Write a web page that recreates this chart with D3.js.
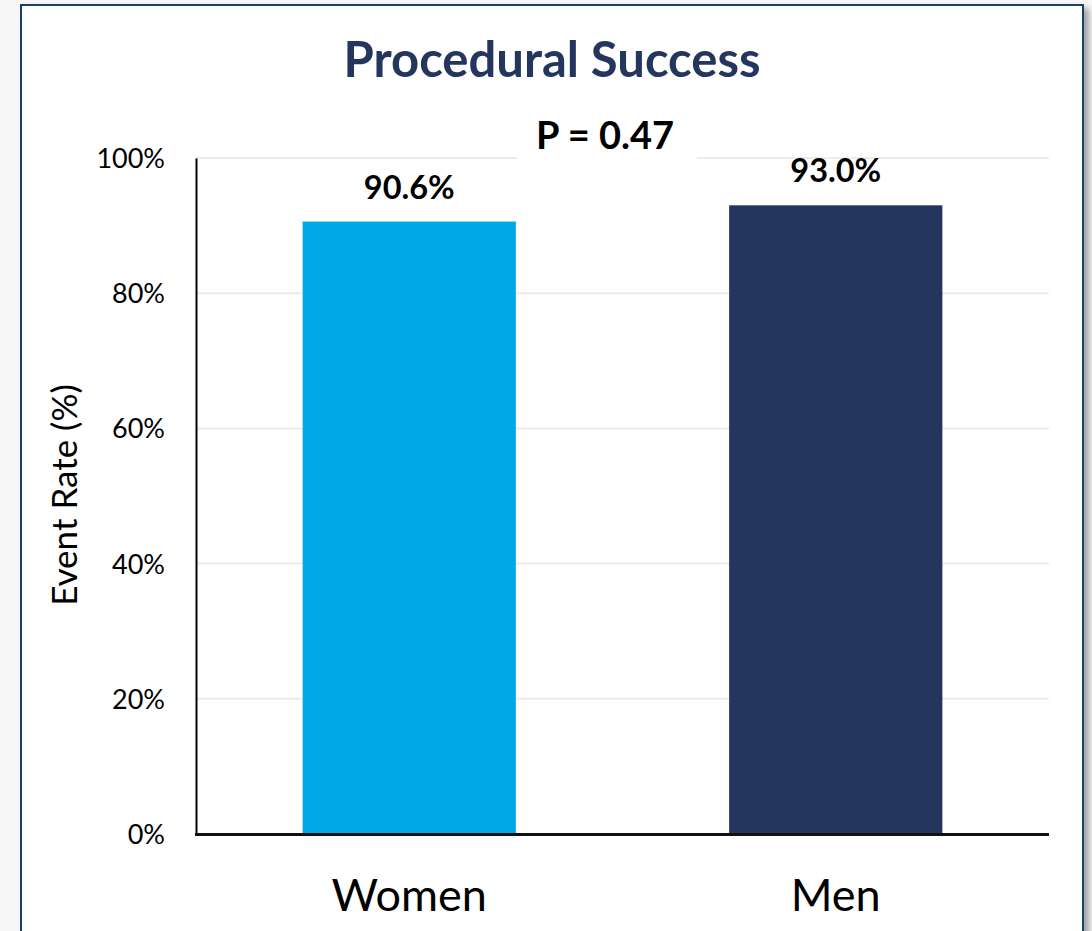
<!DOCTYPE html>
<html>
<head>
<meta charset="utf-8">
<script src="https://cdn.jsdelivr.net/npm/d3@7"></script>
<style>
  html, body { margin: 0; padding: 0; background: #f7f7f7; }
  svg { display: block; font-family: Lato, "Open Sans", sans-serif; }
</style>
</head>
<body>
<div class="chart"></div>
<script>
// data
const groups = ["Women", "Men"];
const rates = [90.6, 93.0];
const barColors = ["#00a9e6", "#24355e"];
const yTicks = [0, 20, 40, 60, 80, 100];
const pLabel = "P = 0.47";

const W = 1092, H = 931;
const plot = { left: 196, right: 1049, top: 158, bottom: 834 };

let svg = d3.select(".chart").append("svg").attr("width", W).attr("height", H);

// shadow + framed box
let defs = svg.append("defs");
let f = defs.append("filter").attr("id", "shadow").attr("x", "-5%").attr("y", "-5%").attr("width", "115%").attr("height", "115%");
f.append("feDropShadow").attr("dx", 5).attr("dy", 4).attr("stdDeviation", 3).attr("flood-color", "#000").attr("flood-opacity", 0.35);

svg.append("rect")
  .attr("x", 21).attr("y", 5).attr("width", 1062).attr("height", 940)
  .attr("fill", "#fff").attr("stroke", "#1f3f6e").attr("stroke-width", 2)
  .attr("filter", "url(#shadow)");

// scales
let x = d3.scaleBand().domain(groups).range([plot.left, plot.right]).paddingInner(0.5).paddingOuter(0.25);
let y = d3.scaleLinear().domain([0, 100]).range([plot.bottom, plot.top]);

// gridlines
svg.append("g")
  .selectAll("line")
  .data(yTicks.filter(d => d > 0))
  .enter()
  .append("line")
  .attr("x1", plot.left).attr("x2", plot.right)
  .attr("y1", d => y(d)).attr("y2", d => y(d))
  .attr("stroke", "#ececec").attr("stroke-width", 2);

// y axis
let yAxis = svg.append("g")
  .attr("transform", `translate(${plot.left},0)`)
  .call(d3.axisLeft(y).tickValues(yTicks).tickFormat(d => d + "%").tickSize(0).tickPadding(31));
yAxis.attr("font-size", 27).attr("font-family", "Lato, sans-serif");
yAxis.select(".domain").attr("stroke", "#000").attr("stroke-width", 2);
yAxis.selectAll("text").attr("fill", "#000").attr("dy", "0.35em");

// bars
svg.append("g")
  .selectAll("rect")
  .data(groups)
  .enter()
  .append("rect")
  .attr("x", d => x(d))
  .attr("width", x.bandwidth())
  .attr("y", (d, i) => y(rates[i]))
  .attr("height", (d, i) => y(0) - y(rates[i]))
  .attr("fill", (d, i) => barColors[i]);

// x axis line
svg.append("line")
  .attr("x1", plot.left - 1).attr("x2", plot.right)
  .attr("y1", plot.bottom + 0.5).attr("y2", plot.bottom + 0.5)
  .attr("stroke", "#111").attr("stroke-width", 3);

// value labels
svg.append("g")
  .selectAll("text")
  .data(groups)
  .enter()
  .append("text")
  .attr("x", d => x(d) + x.bandwidth() / 2)
  .attr("y", (d, i) => y(rates[i]) - 23)
  .attr("text-anchor", "middle")
  .attr("font-size", 32.5).attr("font-weight", "bold").attr("fill", "#000")
  .text((d, i) => rates[i].toFixed(1) + "%");

// category labels
svg.append("g")
  .selectAll("text")
  .data(groups)
  .enter()
  .append("text")
  .attr("x", d => x(d) + x.bandwidth() / 2)
  .attr("y", 911)
  .attr("text-anchor", "middle")
  .attr("font-size", 45).attr("fill", "#000")
  .text(d => d);

// y title
svg.append("text")
  .attr("transform", "translate(77,495) rotate(-90)")
  .attr("text-anchor", "middle")
  .attr("font-size", 35).attr("fill", "#000")
  .text("Event Rate (%)");

// p value with white box over the gridline
svg.append("rect").attr("x", 517).attr("y", 112).attr("width", 180).attr("height", 50).attr("fill", "#fff");
svg.append("text")
  .attr("x", 605).attr("y", 149)
  .attr("text-anchor", "middle")
  .attr("font-size", 38).attr("font-weight", "bold").attr("fill", "#000")
  .text(pLabel);

// title
svg.append("text")
  .attr("x", 552).attr("y", 77)
  .attr("text-anchor", "middle")
  .attr("font-size", 49).attr("font-weight", "bold").attr("fill", "#24355e")
  .text("Procedural Success");
</script>
</body>
</html>
